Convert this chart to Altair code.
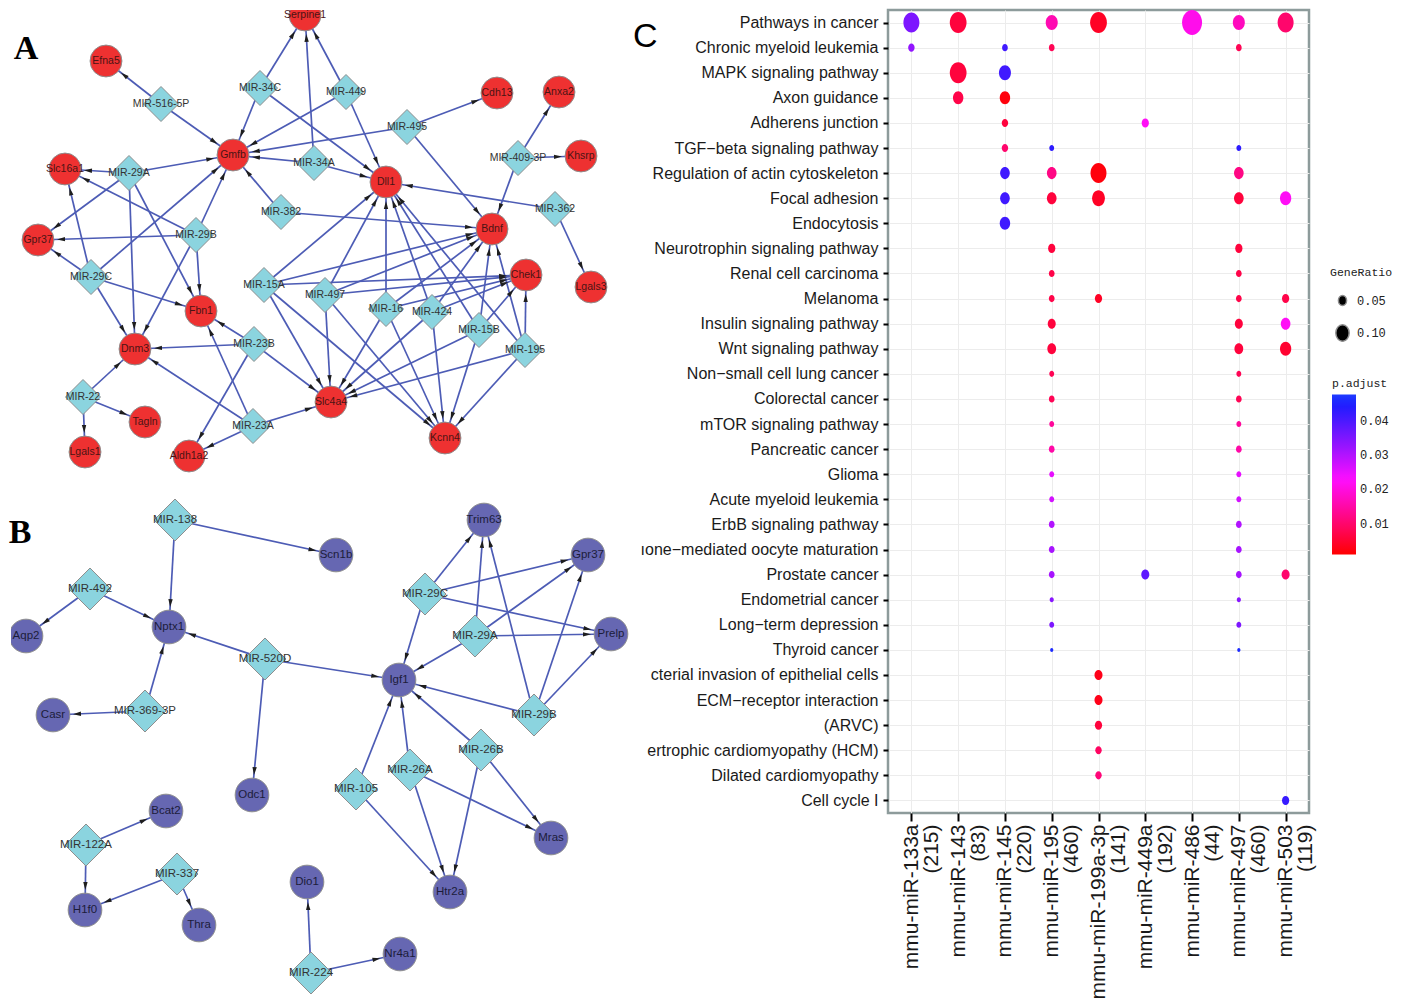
import math
import altair as alt
import pandas as pd

# ---------------- Panel A network (red targets) ----------------
a_gene_names = ["Serpine1", "Efna5", "Gmfb", "Slc16a1", "Gpr37", "Cdh13", "Anxa2", "Khsrp",
                "Dll1", "Bdnf", "Chek1", "Lgals3", "Fbn1", "Dnm3", "Slc4a4", "Kcnn4",
                "Tagln", "Lgals1", "Aldh1a2"]
a_gene_x = [302, 103, 230, 62, 35, 494, 556, 578, 383, 489, 523, 588, 198, 132, 328, 442, 142, 82, 186]
a_gene_y = [13, 59, 153, 167, 238, 91, 90, 154, 180, 227, 273, 285, 309, 347, 400, 436, 420, 450, 454]

a_mir_names = ["MIR-516-5P", "MIR-34C", "MIR-449", "MIR-495", "MIR-409-3P", "MIR-29A", "MIR-34A",
               "MIR-382", "MIR-362", "MIR-29B", "MIR-29C", "MIR-15A", "MIR-497", "MIR-16",
               "MIR-424", "MIR-15B", "MIR-195", "MIR-23B", "MIR-22", "MIR-23A"]
a_mir_x = [158, 257, 343, 404, 515, 126, 311, 278, 552, 193, 88, 261, 322, 383, 429, 476, 522, 251, 80, 250]
a_mir_y = [102, 86, 90, 125, 156, 171, 161, 210, 207, 233, 275, 283, 293, 307, 310, 328, 348, 342, 395, 424]

a_edge_src = ["MIR-516-5P", "MIR-516-5P",
              "MIR-34C", "MIR-34C", "MIR-34C",
              "MIR-449", "MIR-449", "MIR-449",
              "MIR-34A", "MIR-34A", "MIR-34A",
              "MIR-495", "MIR-495", "MIR-495",
              "MIR-409-3P", "MIR-409-3P", "MIR-409-3P",
              "MIR-362", "MIR-362",
              "MIR-382", "MIR-382",
              "MIR-29A", "MIR-29A", "MIR-29A", "MIR-29A", "MIR-29A",
              "MIR-29B", "MIR-29B", "MIR-29B", "MIR-29B", "MIR-29B",
              "MIR-29C", "MIR-29C", "MIR-29C", "MIR-29C", "MIR-29C",
              "MIR-15A", "MIR-15A", "MIR-15A", "MIR-15A", "MIR-15A",
              "MIR-497", "MIR-497", "MIR-497", "MIR-497", "MIR-497",
              "MIR-16", "MIR-16", "MIR-16", "MIR-16", "MIR-16",
              "MIR-424", "MIR-424", "MIR-424", "MIR-424", "MIR-424",
              "MIR-15B", "MIR-15B", "MIR-15B", "MIR-15B", "MIR-15B",
              "MIR-195", "MIR-195", "MIR-195", "MIR-195", "MIR-195",
              "MIR-23B", "MIR-23B", "MIR-23B", "MIR-23B",
              "MIR-23A", "MIR-23A", "MIR-23A", "MIR-23A",
              "MIR-22", "MIR-22", "MIR-22"]
a_edge_tgt = ["Efna5", "Gmfb",
              "Serpine1", "Gmfb", "Dll1",
              "Serpine1", "Dll1", "Gmfb",
              "Serpine1", "Gmfb", "Dll1",
              "Cdh13", "Gmfb", "Bdnf",
              "Anxa2", "Khsrp", "Bdnf",
              "Dll1", "Lgals3",
              "Gmfb", "Bdnf",
              "Slc16a1", "Gmfb", "Gpr37", "Fbn1", "Dnm3",
              "Gmfb", "Gpr37", "Slc16a1", "Fbn1", "Dnm3",
              "Gpr37", "Slc16a1", "Gmfb", "Dnm3", "Fbn1",
              "Dll1", "Bdnf", "Chek1", "Slc4a4", "Kcnn4",
              "Dll1", "Bdnf", "Chek1", "Slc4a4", "Kcnn4",
              "Dll1", "Bdnf", "Chek1", "Slc4a4", "Kcnn4",
              "Dll1", "Bdnf", "Chek1", "Slc4a4", "Kcnn4",
              "Dll1", "Bdnf", "Chek1", "Slc4a4", "Kcnn4",
              "Dll1", "Bdnf", "Chek1", "Slc4a4", "Kcnn4",
              "Fbn1", "Dnm3", "Slc4a4", "Aldh1a2",
              "Dnm3", "Fbn1", "Slc4a4", "Aldh1a2",
              "Dnm3", "Tagln", "Lgals1"]

# ---------------- Panel B network (purple targets) ----------------
b_gene_names = ["Trim63", "Scn1b", "Gpr37", "Aqp2", "Nptx1", "Prelp", "Igf1", "Casr", "Odc1",
                "Bcat2", "Mras", "H1f0", "Thra", "Dio1", "Htr2a", "Nr4a1"]
b_gene_x = [481, 333, 585, 23, 166, 608, 396, 50, 249, 163, 548, 82, 196, 304, 447, 397]
b_gene_y = [518, 553, 553, 634, 625, 632, 678, 713, 793, 809, 836, 908, 923, 880, 890, 952]

b_mir_names = ["MIR-138", "MIR-492", "MIR-29C", "MIR-29A", "MIR-520D", "MIR-369-3P", "MIR-29B",
               "MIR-26B", "MIR-26A", "MIR-105", "MIR-122A", "MIR-337", "MIR-224"]
b_mir_x = [172, 87, 422, 472, 262, 142, 531, 478, 407, 353, 83, 174, 308]
b_mir_y = [518, 587, 592, 634, 657, 709, 713, 748, 768, 787, 843, 872, 971]

b_edge_src = ["MIR-138", "MIR-138", "MIR-492", "MIR-492", "MIR-369-3P", "MIR-369-3P",
              "MIR-520D", "MIR-520D", "MIR-520D",
              "MIR-29C", "MIR-29C", "MIR-29C", "MIR-29C",
              "MIR-29A", "MIR-29A", "MIR-29A", "MIR-29A",
              "MIR-29B", "MIR-29B", "MIR-29B", "MIR-29B",
              "MIR-26B", "MIR-26B", "MIR-26B",
              "MIR-26A", "MIR-26A", "MIR-26A",
              "MIR-105", "MIR-105",
              "MIR-122A", "MIR-122A", "MIR-337", "MIR-337", "MIR-224", "MIR-224"]
b_edge_tgt = ["Nptx1", "Scn1b", "Aqp2", "Nptx1", "Nptx1", "Casr",
              "Nptx1", "Igf1", "Odc1",
              "Trim63", "Gpr37", "Prelp", "Igf1",
              "Trim63", "Gpr37", "Prelp", "Igf1",
              "Trim63", "Gpr37", "Prelp", "Igf1",
              "Igf1", "Htr2a", "Mras",
              "Igf1", "Htr2a", "Mras",
              "Igf1", "Htr2a",
              "Bcat2", "H1f0", "H1f0", "Thra", "Dio1", "Nr4a1"]

panel_letters = ["A", "B"]
panel_letter_x = [23, 17]
panel_letter_y = [47, 531]

# ---------------- Panel C enrichment dot plot ----------------
pathways = ["Pathways in cancer", "Chronic myeloid leukemia", "MAPK signaling pathway",
            "Axon guidance", "Adherens junction", "TGF\u2212beta signaling pathway",
            "Regulation of actin cytoskeleton", "Focal adhesion", "Endocytosis",
            "Neurotrophin signaling pathway", "Renal cell carcinoma", "Melanoma",
            "Insulin signaling pathway", "Wnt signaling pathway", "Non\u2212small cell lung cancer",
            "Colorectal cancer", "mTOR signaling pathway", "Pancreatic cancer", "Glioma",
            "Acute myeloid leukemia", "ErbB signaling pathway", "\u0131one\u2212mediated oocyte maturation",
            "Prostate cancer", "Endometrial cancer", "Long\u2212term depression", "Thyroid cancer",
            "cterial invasion of epithelial cells", "ECM\u2212receptor interaction", "(ARVC)",
            "ertrophic cardiomyopathy (HCM)", "Dilated cardiomyopathy", "Cell cycle I"]
mirnas = ["mmu-miR-133a|(215)", "mmu-miR-143|(83)", "mmu-miR-145|(220)", "mmu-miR-195|(460)",
          "mmu-miR-199a-3p|(141)", "mmu-miR-449a|(192)", "mmu-miR-486|(44)",
          "mmu-miR-497|(460)", "mmu-miR-503|(119)"]

P, M = pathways, mirnas
dot_path = [P[0]] * 7 + [P[1]] * 4 + [P[2]] * 2 + [P[3]] * 2 + [P[4]] * 2 + [P[5]] * 3 + \
    [P[6]] * 4 + [P[7]] * 5 + [P[8]] + [P[9]] * 2 + [P[10]] * 2 + [P[11]] * 4 + [P[12]] * 3 + \
    [P[13]] * 3 + [P[14]] * 2 + [P[15]] * 2 + [P[16]] * 2 + [P[17]] * 2 + [P[18]] * 2 + \
    [P[19]] * 2 + [P[20]] * 2 + [P[21]] * 2 + [P[22]] * 4 + [P[23]] * 2 + [P[24]] * 2 + \
    [P[25]] * 2 + [P[26]] + [P[27]] + [P[28]] + [P[29]] + [P[30]] + [P[31]]
dot_mir = [M[0], M[1], M[3], M[4], M[6], M[7], M[8],
           M[0], M[2], M[3], M[7],
           M[1], M[2],
           M[1], M[2],
           M[2], M[5],
           M[2], M[3], M[7],
           M[2], M[3], M[4], M[7],
           M[2], M[3], M[4], M[7], M[8],
           M[2],
           M[3], M[7],
           M[3], M[7],
           M[3], M[4], M[7], M[8],
           M[3], M[7], M[8],
           M[3], M[7], M[8],
           M[3], M[7],
           M[3], M[7],
           M[3], M[7],
           M[3], M[7],
           M[3], M[7],
           M[3], M[7],
           M[3], M[7],
           M[3], M[7],
           M[3], M[5], M[7], M[8],
           M[3], M[7],
           M[3], M[7],
           M[3], M[7],
           M[4], M[4], M[4], M[4], M[4],
           M[8]]
dot_ratio = [0.135, 0.147, 0.085, 0.147, 0.200, 0.085, 0.135,
             0.039, 0.035, 0.035, 0.035,
             0.147, 0.085,
             0.069, 0.069,
             0.039, 0.044,
             0.039, 0.031, 0.031,
             0.062, 0.062, 0.135, 0.062,
             0.062, 0.062, 0.094, 0.062, 0.077,
             0.069,
             0.044, 0.044,
             0.035, 0.035,
             0.035, 0.044, 0.035, 0.044,
             0.049, 0.049, 0.062,
             0.055, 0.055, 0.077,
             0.031, 0.031,
             0.035, 0.035,
             0.031, 0.031,
             0.035, 0.035,
             0.031, 0.031,
             0.031, 0.031,
             0.035, 0.035,
             0.035, 0.035,
             0.035, 0.049, 0.035, 0.049,
             0.028, 0.028,
             0.031, 0.031,
             0.025, 0.025,
             0.049, 0.049, 0.044, 0.039, 0.039,
             0.044]
dot_padj = [0.035, 0.006, 0.016, 0.004, 0.021, 0.017, 0.010,
            0.033, 0.041, 0.008, 0.008,
            0.006, 0.041,
            0.007, 0.002,
            0.006, 0.022,
            0.010, 0.043, 0.043,
            0.041, 0.012, 0.002, 0.012,
            0.041, 0.006, 0.004, 0.006, 0.022,
            0.041,
            0.006, 0.006,
            0.007, 0.007,
            0.007, 0.004, 0.007, 0.007,
            0.006, 0.006, 0.022,
            0.006, 0.006, 0.005,
            0.008, 0.008,
            0.008, 0.008,
            0.014, 0.014,
            0.015, 0.015,
            0.025, 0.025,
            0.027, 0.027,
            0.030, 0.030,
            0.031, 0.031,
            0.031, 0.038, 0.031, 0.010,
            0.034, 0.034,
            0.035, 0.035,
            0.046, 0.046,
            0.003, 0.003, 0.006, 0.009, 0.011,
            0.042]

# ---------------- build network tables ----------------
GENE_A, GENE_B = "#ee3131", "#6667b2"
MIR_FILL = "#8bd4df"


def build(genes, gx, gy, mirs, mx, my, src, tgt, gene_fill, gene_d, mir_d, fs, gene_txt):
    nodes, pos = [], {}
    for n, x, y in zip(genes, gx, gy):
        pos[n] = (x, y)
        nodes.append(dict(name=n, x=x, y=y, shape="circle", fill=gene_fill,
                          size=math.pi * (gene_d / 2) ** 2, fs=fs, tc=gene_txt))
    for n, x, y in zip(mirs, mx, my):
        pos[n] = (x, y)
        nodes.append(dict(name=n, x=x, y=y, shape="diamond", fill=MIR_FILL,
                          size=mir_d ** 2, fs=fs, tc="#333333"))
    edges = []
    for s, t in zip(src, tgt):
        sx, sy = pos[s]
        tx, ty = pos[t]
        dx, dy = tx - sx, ty - sy
        L = math.hypot(dx, dy)
        back = gene_d / 2 + 5
        edges.append(dict(x=sx, y=sy, x2=tx, y2=ty,
                          ax=tx - dx / L * back, ay=ty - dy / L * back,
                          angle=(math.degrees(math.atan2(dx, -dy)) + 360) % 360))
    return nodes, edges


na, ea = build(a_gene_names, a_gene_x, a_gene_y, a_mir_names, a_mir_x, a_mir_y,
               a_edge_src, a_edge_tgt, GENE_A, 36, 35, 10.5, "#4a1414")
nb, eb = build(b_gene_names, b_gene_x, b_gene_y, b_mir_names, b_mir_x, b_mir_y,
               b_edge_src, b_edge_tgt, GENE_B, 38, 42, 11.5, "#1c1c3a")
nodes = pd.DataFrame(na + nb)
edges = pd.DataFrame(ea + eb)
letters = pd.DataFrame(dict(t=panel_letters, x=panel_letter_x, y=panel_letter_y))

LW = 619
LH = 988
X0 = 8
xs = alt.Scale(domain=[X0, X0 + LW], nice=False, zero=False)
ys = alt.Scale(domain=[8, 8 + LH], nice=False, zero=False, reverse=True)

ex = alt.X("x:Q", scale=xs, axis=None)
ey = alt.Y("y:Q", scale=ys, axis=None)

edge_layer = alt.Chart(edges).mark_rule(color="#4d5cb5", strokeWidth=1.7, clip=True).encode(
    x=ex, y=ey, x2="x2:Q", y2="y2:Q")
arrow_layer = alt.Chart(edges).mark_point(
    shape="M0,-1L0.55,1L-0.55,1Z", filled=True, color="#1e1e1e", opacity=1, size=64, clip=True
).encode(x=alt.X("ax:Q", scale=xs, axis=None), y=alt.Y("ay:Q", scale=ys, axis=None),
         angle=alt.Angle("angle:Q", scale=None))
node_layer = alt.Chart(nodes).mark_point(filled=True, opacity=1, stroke="#8e8e8e",
                                         strokeWidth=1, clip=True).encode(
    x=ex, y=ey,
    shape=alt.Shape("shape:N", scale=None),
    color=alt.Color("fill:N", scale=None),
    size=alt.Size("size:Q", scale=None))
label_layer = alt.Chart(nodes).mark_text(font="Liberation Sans", clip=True).encode(
    x=ex, y=ey, text="name:N",
    size=alt.Size("fs:Q", scale=None),
    color=alt.Color("tc:N", scale=None))
letter_layer = alt.Chart(letters).mark_text(font="Liberation Serif", fontWeight="bold",
                                            fontSize=34, color="black", baseline="middle").encode(
    x=ex, y=ey, text="t:N")

left = alt.layer(edge_layer, arrow_layer, node_layer, label_layer, letter_layer).properties(
    width=LW, height=LH, view=alt.ViewBackground(stroke="transparent"))

# ---------------- panel C ----------------
dots = pd.DataFrame(dict(path=dot_path, mir=dot_mir, ratio=dot_ratio, padj=dot_padj))
ellipse = "M0,-1A0.8,1 0 1,1 0,1A0.8,1 0 1,1 0,-1Z"
MONO = "Liberation Mono"

dot_layer = alt.Chart(dots).mark_point(filled=True, opacity=1, shape=ellipse).encode(
    x=alt.X("mir:N", sort=mirnas, scale=alt.Scale(domain=mirnas, type="point", padding=0.5),
            axis=alt.Axis(title=None, labelAngle=270, labelExpr="split(datum.label, '|')",
                          labelFont="Liberation Sans", labelFontSize=21, labelLineHeight=20,
                          labelColor="#1a1a1a", tickColor="black", tickWidth=2, tickSize=8,
                          labelPadding=3, domain=False, grid=True, gridColor="#ececec",
                          labelOverlap=False, labelLimit=400)),
    y=alt.Y("path:N", sort=pathways, scale=alt.Scale(domain=pathways, type="point", padding=0.5),
            axis=alt.Axis(title=None, labelFont="Liberation Sans",
                          labelFontSize=16, labelColor="#1a1a1a", tickColor="black", tickWidth=2,
                          tickSize=5, labelPadding=5, domain=False, grid=True, gridColor="#ececec",
                          labelLimit=400, labelOverlap=False)),
    color=alt.Color("padj:Q", title="p.adjust",
                    scale=alt.Scale(domain=[0.001, 0.0476], range=["#ff0000", "#1e3cff"],
                                    interpolate="hsl"),
                    legend=alt.Legend(orient="none", legendX=1321, legendY=368, direction="vertical",
                                      gradientLength=160, gradientThickness=24,
                                      values=[0.01, 0.02, 0.03, 0.04], format=".2f",
                                      titleFont=MONO, titleFontSize=11.5, titleFontWeight="normal",
                                      labelFont=MONO, labelFontSize=12, labelColor="#222",
                                      titleColor="#222", gradientStrokeWidth=0, labelOffset=4)),
    size=alt.Size("ratio:Q", title="GeneRatio",
                  scale=alt.Scale(domain=[0.025, 0.2], range=[16, 625], zero=False),
                  legend=alt.Legend(orient="none", legendX=1319, legendY=257, values=[0.05, 0.10],
                                    format=".2f", titleFont=MONO, titleFontSize=11.5,
                                    titleFontWeight="normal", labelFont=MONO, labelFontSize=12,
                                    labelColor="#222", titleColor="#222", titlePadding=16,
                                    symbolFillColor="black", symbolStrokeColor="black",
                                    symbolType=ellipse, rowPadding=12, symbolOffset=3,
                                    labelOffset=5)),
)

c_letter = alt.Chart(pd.DataFrame(dict(t=["C"]))).mark_text(
    font="Liberation Sans", fontSize=34, align="left", baseline="middle", color="black").encode(
    x=alt.value(-255), y=alt.value(27), text="t:N")

right = alt.layer(dot_layer, c_letter).properties(
    width=421, height=803,
    view=alt.ViewBackground(stroke="#8d9b9b", strokeWidth=2.5))

chart = alt.hconcat(left, right, spacing=0).properties(padding=0).configure(
    background="white")

chart.save("out.html", embed_options={"renderer": "svg", "actions": False})
